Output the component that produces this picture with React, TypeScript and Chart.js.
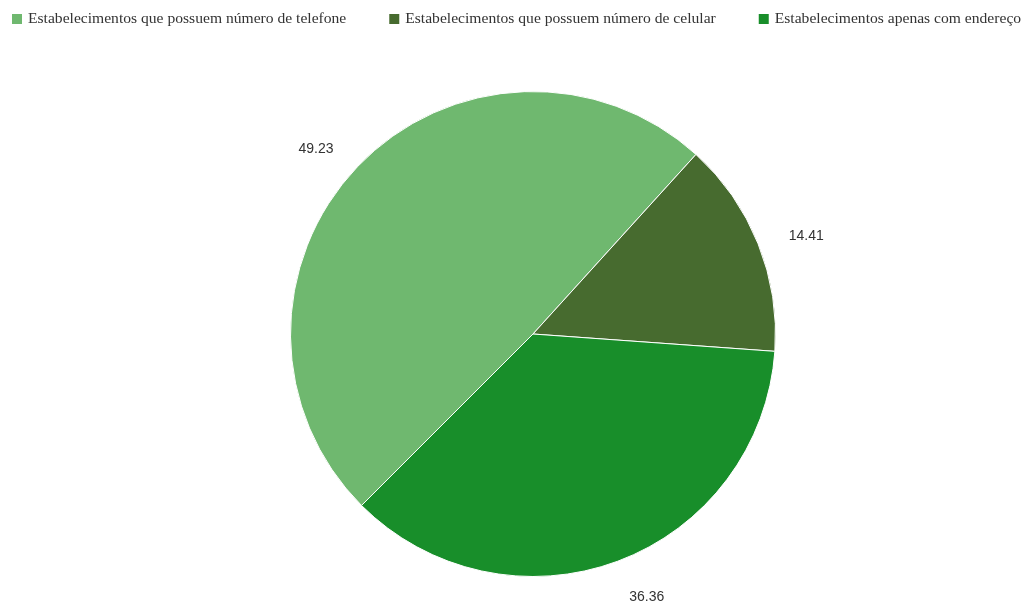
import React, { useEffect, useRef } from "react";
import { Chart, registerables } from "chart.js";

Chart.register(...registerables);

const categories = [
  "Estabelecimentos que possuem número de telefone",
  "Estabelecimentos que possuem número de celular",
  "Estabelecimentos apenas com endereço",
];
const values = [49.23, 14.41, 36.36];
const colors = ["#6fb86f", "#476b2f", "#188e2a"];

const legendPlugin = {
  id: "customLegend",
  afterDraw(chart: any) {
    const ctx = chart.ctx;
    ctx.save();
    ctx.font = "15.6px 'Liberation Serif', serif";
    ctx.textBaseline = "middle";
    ctx.textAlign = "left";
    let x = 12;
    const y = 19;
    categories.forEach((c, i) => {
      ctx.fillStyle = colors[i];
      ctx.fillRect(x, y - 5, 10, 10);
      ctx.fillStyle = "#333";
      ctx.fillText(c, x + 16, y);
      x += 16 + ctx.measureText(c).width + 43;
    });
    ctx.restore();
  },
};

const valueLabelPlugin = {
  id: "valueLabels",
  afterDatasetsDraw(chart: any) {
    const ctx = chart.ctx;
    const meta = chart.getDatasetMeta(0);
    ctx.save();
    ctx.font = "14px 'Liberation Sans', Arial, sans-serif";
    ctx.fillStyle = "#333";
    ctx.textBaseline = "middle";
    meta.data.forEach((arc: any, i: number) => {
      const p = arc.getProps(["x", "y", "startAngle", "endAngle", "outerRadius"], true);
      const mid = (p.startAngle + p.endAngle) / 2;
      const r = p.outerRadius + 33;
      const c = Math.cos(mid);
      const s = Math.sin(mid);
      ctx.textAlign = c >= 0 ? "left" : "right";
      ctx.fillText(values[i].toFixed(2), p.x + c * r, p.y + s * r + 5);
    });
    ctx.restore();
  },
};

export default function App() {
  const ref = useRef<HTMLCanvasElement>(null);
  useEffect(() => {
    document.body.style.margin = "0";
    const chart = new Chart(ref.current!, {
      type: "pie",
      data: {
        labels: categories,
        datasets: [
          {
            data: values,
            backgroundColor: colors,
            borderColor: "#ffffff",
            borderWidth: 1,
          },
        ],
      },
      options: {
        animation: false,
        responsive: false,
        rotation: 225,
        layout: { padding: { top: 91, bottom: 28, left: 39, right: 0 } },
        plugins: {
          legend: { display: false },
          tooltip: { enabled: false },
        },
      },
      plugins: [legendPlugin, valueLabelPlugin],
    });
    return () => chart.destroy();
  }, []);
  return (
    <div style={{ width: 1027, height: 605, background: "#fff" }}>
      <canvas ref={ref} width={1027} height={605} />
    </div>
  );
}
